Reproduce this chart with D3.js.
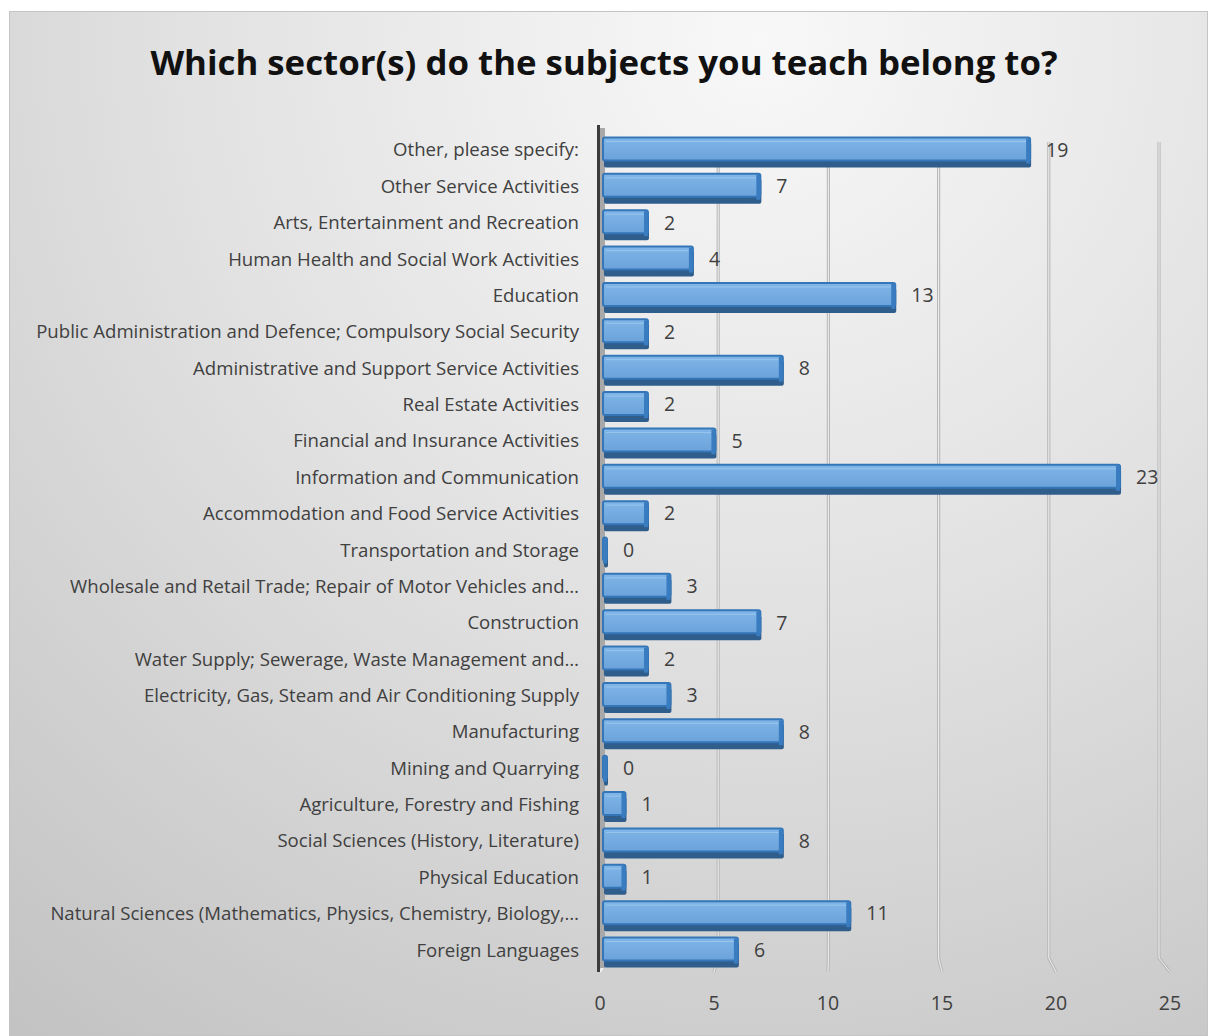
<!DOCTYPE html>
<html>
<head>
<meta charset="utf-8">
<script src="https://cdn.jsdelivr.net/npm/d3@7"></script>
<style>
  html, body { margin: 0; padding: 0; background: #ffffff; }
  svg { display: block; }
</style>
</head>
<body>
<svg id="chart" width="1208" height="1036"></svg>
<script>
// Survey answers, listed top to bottom as they appear on the chart
const categories = [
  "Other, please specify:",
  "Other Service Activities",
  "Arts, Entertainment and Recreation",
  "Human Health and Social Work Activities",
  "Education",
  "Public Administration and Defence; Compulsory Social Security",
  "Administrative and Support Service Activities",
  "Real Estate Activities",
  "Financial and Insurance Activities",
  "Information and Communication",
  "Accommodation and Food Service Activities",
  "Transportation and Storage",
  "Wholesale and Retail Trade; Repair of Motor Vehicles and\u2026",
  "Construction",
  "Water Supply; Sewerage, Waste Management and\u2026",
  "Electricity, Gas, Steam and Air Conditioning Supply",
  "Manufacturing",
  "Mining and Quarrying",
  "Agriculture, Forestry and Fishing",
  "Social Sciences (History, Literature)",
  "Physical Education",
  "Natural Sciences (Mathematics, Physics, Chemistry, Biology,\u2026",
  "Foreign Languages"
];
const counts = [19, 7, 2, 4, 13, 2, 8, 2, 5, 23, 2, 0, 3, 7, 2, 3, 8, 0, 1, 8, 1, 11, 6];
const tickValues = [0, 5, 10, 15, 20, 25];
const titleText = "Which sector(s) do the subjects you teach belong to?";

const svg = d3.select("#chart");
const defs = svg.append("defs");

// Chart area background: soft radial grey shading
const bg = defs.append("radialGradient").attr("id", "bgGrad")
  .attr("gradientUnits", "userSpaceOnUse")
  .attr("cx", 760).attr("cy", 40).attr("r", 1250);
bg.append("stop").attr("offset", "0%").attr("stop-color", "#f8f8f8");
bg.append("stop").attr("offset", "45%").attr("stop-color", "#e2e2e2");
bg.append("stop").attr("offset", "100%").attr("stop-color", "#c2c2c2");

// Bar face gradient
const barGrad = defs.append("linearGradient").attr("id", "barGrad")
  .attr("x1", "0%").attr("x2", "0%").attr("y1", "0%").attr("y2", "100%");
barGrad.append("stop").attr("offset", "0%").attr("stop-color", "#80b6e8");
barGrad.append("stop").attr("offset", "100%").attr("stop-color", "#6aa2da");

svg.append("rect")
  .attr("x", 9.5).attr("y", 11.5).attr("width", 1198).attr("height", 1024)
  .attr("fill", "url(#bgGrad)").attr("stroke", "#c4c4c4").attr("stroke-width", 1);

// Title
svg.append("text")
  .attr("x", 604).attr("y", 75)
  .attr("text-anchor", "middle")
  .attr("font-family", "'Open Sans', sans-serif")
  .attr("font-weight", 700)
  .attr("font-size", 34.8)
  .attr("fill", "#111111")
  .text(titleText);

// Scales: back wall, front floor edge, and the bars themselves
const xBack = d3.scaleLinear().domain([0, 25]).range([608, 1159]);
const xFront = d3.scaleLinear().domain([0, 25]).range([600, 1170]);
const xBar = d3.scaleLinear().domain([0, 25]).range([603, 1165]);
const y = d3.scaleBand().domain(categories).range([131.8, 968.2]).paddingInner(0).paddingOuter(0);

const wallTop = 142, wallBottom = 958, floorFront = 972;

// Gridlines on the back wall, folding onto the floor
const grid = svg.append("g");
tickValues.filter(t => t > 0).forEach(t => {
  const p = `M${xBack(t)},${wallTop} L${xBack(t)},${wallBottom} L${xFront(t)},${floorFront}`;
  grid.append("path").attr("d", p).attr("fill", "none")
    .attr("stroke", "#b9b9b9").attr("stroke-width", 3.2);
  grid.append("path").attr("d", p).attr("fill", "none")
    .attr("stroke", "#f0f0f0").attr("stroke-width", 1);
});
// floor edge at zero
grid.append("path")
  .attr("d", `M${xBack(0)},${wallBottom} L${xFront(0)},${floorFront}`)
  .attr("fill", "none").attr("stroke", "#f4f4f4").attr("stroke-width", 2);

// Left wall (category axis)
svg.append("rect").attr("x", 600).attr("y", 128).attr("width", 5).attr("height", 840)
  .attr("fill", "#a8a8a8");
svg.append("line").attr("x1", 598.5).attr("x2", 598.5).attr("y1", 125).attr("y2", 972)
  .attr("stroke", "#3c3c3c").attr("stroke-width", 3);

// Bars with a simple 3D look: front face, darker base and end cap
const bh = 23;
const bars = svg.append("g").selectAll("g").data(categories).join("g")
  .attr("transform", d => `translate(0,${y(d) + y.bandwidth() / 2})`);

bars.each(function (d, i) {
  const g = d3.select(this);
  const x0 = xBar(0), x1 = Math.max(xBar(counts[i]), x0 + 4);
  const w = x1 - x0;
  // base shadow (bottom face)
  g.append("rect").attr("x", x0 + 1).attr("y", -bh / 2 + 4).attr("width", w).attr("height", bh + 2)
    .attr("rx", 2).attr("fill", "#2f5d8c");
  // front face
  g.append("rect").attr("x", x0).attr("y", -bh / 2 - 1).attr("width", w).attr("height", bh)
    .attr("rx", 2).attr("fill", "url(#barGrad)")
    .attr("stroke", "#3476b8").attr("stroke-width", 2);
  // inner highlight line along the top
  if (w > 10) {
    g.append("line").attr("x1", x0 + 3).attr("x2", x1 - 4)
      .attr("y1", -bh / 2 + 3).attr("y2", -bh / 2 + 3)
      .attr("stroke", "#a2ccf0").attr("stroke-width", 1).attr("opacity", 0.8);
  }
  // end cap (right side face)
  g.append("rect").attr("x", x1 - 4).attr("y", -bh / 2).attr("width", 4).attr("height", bh + 2)
    .attr("fill", "#3a7cc0");
});

// Value labels
bars.append("text")
  .attr("x", (d, i) => Math.max(xBar(counts[i]), xBar(0) + 4) + 16)
  .attr("y", 0)
  .attr("dy", "0.35em")
  .attr("font-family", "'Open Sans', sans-serif")
  .attr("font-size", 19.5)
  .attr("fill", "#404040")
  .text((d, i) => counts[i]);

// Category labels
svg.append("g").selectAll("text").data(categories).join("text")
  .attr("x", 579)
  .attr("y", d => y(d) + y.bandwidth() / 2)
  .attr("dy", "0.35em")
  .attr("text-anchor", "end")
  .attr("font-family", "'Open Sans', sans-serif")
  .attr("font-size", 18.6)
  .attr("fill", "#404040")
  .text(d => d);

// Value axis tick labels along the front floor edge
svg.append("g").selectAll("text").data(tickValues).join("text")
  .attr("x", t => xFront(t))
  .attr("y", 1003)
  .attr("dy", "0.35em")
  .attr("text-anchor", "middle")
  .attr("font-family", "'Open Sans', sans-serif")
  .attr("font-size", 19.5)
  .attr("fill", "#404040")
  .text(t => t);
</script>
</body>
</html>
